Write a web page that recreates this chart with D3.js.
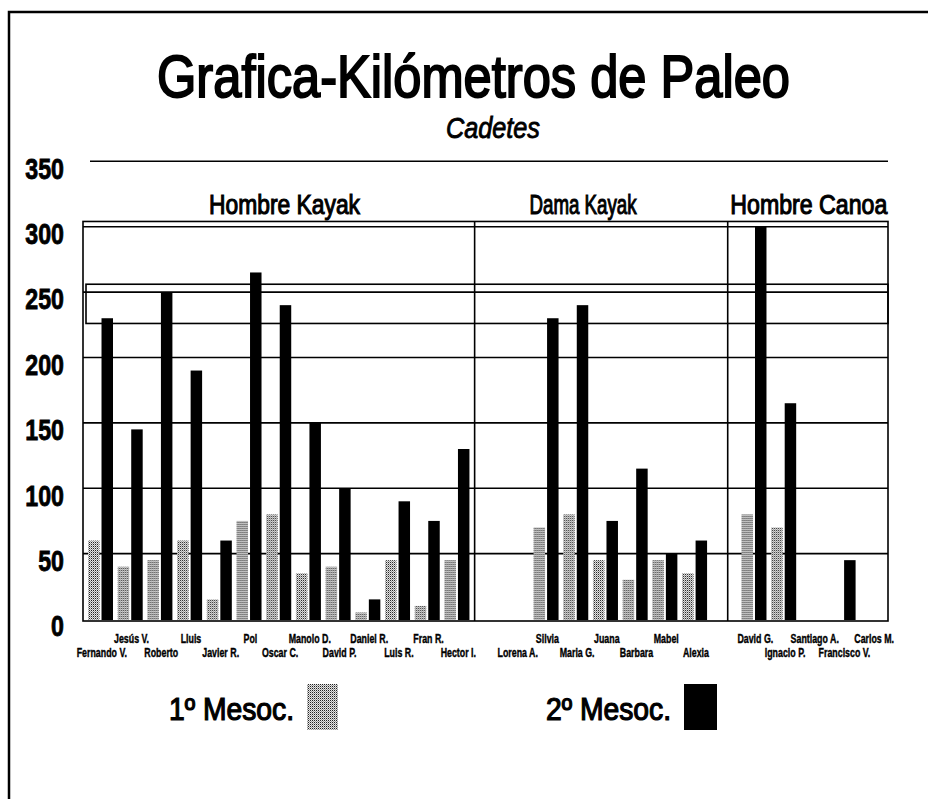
<!DOCTYPE html>
<html>
<head>
<meta charset="utf-8">
<script src="https://cdn.jsdelivr.net/npm/d3@7"></script>
<style>
body { margin: 0; background: #fff; }
svg { display: block; }
text { font-family: "Liberation Sans", Arial, sans-serif; fill: #000; }
</style>
</head>
<body>
<svg id="chart"></svg>
<script>
// one slot per paddler, "" = empty slot between groups
var names = ["Fernando V.", "Jesús V.", "Roberto", "Lluis", "Javier R.", "Pol", "Oscar C.", "Manolo D.", "David P.", "Daniel R.", "Luis R.", "Fran R.", "Hector I.",
             "",
             "Lorena A.", "Silvia", "Maria G.", "Juana", "Barbara", "Mabel", "Alexia",
             "",
             "David G.", "Ignacio P.", "Santiago A.", "Francisco V.", "Carlos M."];
var mesoc1 = [60, 40, 45, 60, 15, 75, 80, 35, 40, 5, 45, 10, 45,
              0,
              0, 70, 80, 45, 30, 45, 35,
              0,
              80, 70, 0, 0, 0];
var mesoc2 = [230, 145, 250, 190, 60, 265, 240, 150, 100, 15, 90, 75, 130,
              0,
              0, 230, 240, 75, 115, 50, 60,
              0,
              300, 165, 0, 45, 0];
var topRow = ["Jesús V.", "Lluis", "Pol", "Manolo D.", "Daniel R.", "Fran R.", "Silvia", "Juana", "Mabel", "David G.", "Santiago A.", "Carlos M."];
var groups = ["Hombre Kayak", "Dama Kayak", "Hombre Canoa"];
var yTicks = [0, 50, 100, 150, 200, 250, 300, 350];
var seriesNames = ["1º Mesoc.", "2º Mesoc."];
var refBand = [226, 256];

var W = 928, H = 799;

// layout (slot units for group things)
var groupCenter = [6.65, 16.7, 24.3];
var groupWidth = [151, 107, 157];
var groupSep = [13.05, 21.57];

var svg = d3.select('#chart').attr('width', W).attr('height', H);

var defs = svg.append('defs');
var pat = defs.append('pattern')
  .attr('id', 'dots')
  .attr('width', 2).attr('height', 2)
  .attr('patternUnits', 'userSpaceOnUse');
pat.append('rect').attr('width', 2).attr('height', 2).attr('fill', '#e6e6e6');
pat.append('rect').attr('x', 0).attr('y', 0).attr('width', 1).attr('height', 1).attr('fill', '#222');
pat.append('rect').attr('x', 1).attr('y', 1).attr('width', 1).attr('height', 1).attr('fill', '#999');

var x = d3.scaleBand().domain(d3.range(names.length)).range([87, 889]).paddingInner(0).paddingOuter(0);
var step = x.step();
var xs = d3.scaleBand().domain([0, 1]).range([1, 26]).paddingInner(0.15);
var y = d3.scaleLinear().domain([0, 300]).range([619, 226.7]);

function slotX(u) { return x.range()[0] + u * step; }

// page frame
svg.append('path')
  .attr('d', 'M9,' + H + 'V12H' + W)
  .attr('fill', 'none').attr('stroke', '#000').attr('stroke-width', 2.5);

// title
svg.append('text')
  .attr('x', 157).attr('y', 97)
  .attr('textLength', 633).attr('lengthAdjust', 'spacingAndGlyphs')
  .style('font-size', '60px')
  .style('stroke', '#000').style('stroke-width', 2)
  .text('Grafica-Kilómetros de Paleo');

svg.append('text')
  .attr('x', 446).attr('y', 138)
  .attr('textLength', 94).attr('lengthAdjust', 'spacingAndGlyphs')
  .style('font-size', '30px').style('font-style', 'italic')
  .style('stroke', '#000').style('stroke-width', 0.9)
  .text('Cadetes');

// box
var bx0 = x.range()[0] - 4, bx1 = x.range()[1] - 1;
svg.append('rect')
  .attr('x', bx0).attr('y', y(304))
  .attr('width', bx1 - bx0).attr('height', y(0) + 2 - y(304))
  .attr('fill', 'none').attr('stroke', '#000').attr('stroke-width', 1.6);

// gridlines
svg.append('g').selectAll('line')
  .data(yTicks.filter(function(d) { return d > 0; }))
  .enter().append('line')
  .attr('x1', function(d) { return d === 350 ? 90 : bx0; })
  .attr('x2', bx1)
  .attr('y1', function(d) { return y(d); })
  .attr('y2', function(d) { return y(d); })
  .attr('stroke', '#000').attr('stroke-width', 1.6);

// reference band around 250
svg.append('rect')
  .attr('x', bx0 + 3).attr('y', y(refBand[1]))
  .attr('width', bx1 - bx0 - 3).attr('height', y(refBand[0]) - y(refBand[1]))
  .attr('fill', 'none').attr('stroke', '#000').attr('stroke-width', 1.6);

// group separators
svg.append('g').selectAll('line')
  .data(groupSep)
  .enter().append('line')
  .attr('x1', slotX).attr('x2', slotX)
  .attr('y1', y(304)).attr('y2', y(0) + 2)
  .attr('stroke', '#000').attr('stroke-width', 1.6);

// group labels
svg.append('g').selectAll('text')
  .data(groups)
  .enter().append('text')
  .attr('x', function(d, i) { return slotX(groupCenter[i]) - groupWidth[i] / 2; })
  .attr('y', 214)
  .attr('textLength', function(d, i) { return groupWidth[i]; })
  .attr('lengthAdjust', 'spacingAndGlyphs')
  .style('font-size', '27px')
  .style('stroke', '#000').style('stroke-width', 1.1)
  .text(function(d) { return d; });

// y axis labels
var yAxis = d3.axisLeft(y).tickValues(yTicks).tickSize(0).tickPadding(0);
var ax = svg.append('g')
  .attr('transform', 'translate(64,0)')
  .call(yAxis);
ax.select('.domain').remove();
ax.attr('font-family', null).attr('font-size', null);
ax.selectAll('text')
  .attr('dy', '0.58em')
  .attr('transform', 'scale(0.8,1)')
  .style('font-size', '29px').style('font-weight', 'bold')
  .style('stroke', '#000').style('stroke-width', 0.8);

// bars
var slots = names.map(function(n, i) { return { i: i, name: n, v: [mesoc1[i], mesoc2[i]] }; });
var bars = svg.append('g').selectAll('g')
  .data(slots)
  .enter().append('g')
  .attr('transform', function(d) { return 'translate(' + x(d.i) + ',0)'; });
bars.selectAll('rect')
  .data(function(d) { return d.v.map(function(v, k) { return { k: k, v: v }; }).filter(function(e) { return e.v > 0; }); })
  .enter().append('rect')
  .attr('x', function(e) { return xs(e.k); })
  .attr('width', xs.bandwidth())
  .attr('y', function(e) { return y(e.v); })
  .attr('height', function(e) { return y(0) + 1 - y(e.v); })
  .attr('fill', function(e) { return e.k === 0 ? 'url(#dots)' : '#000'; });

// names
svg.append('g').selectAll('text')
  .data(slots.filter(function(d) { return d.name !== ''; }))
  .enter().append('text')
  .attr('transform', function(d) {
    var ty = topRow.indexOf(d.name) >= 0 ? 643 : 657;
    return 'translate(' + (x(d.i) + step / 2) + ',' + ty + ') scale(0.68,1)';
  })
  .attr('text-anchor', 'middle')
  .style('font-size', '13px').style('font-weight', 'bold')
  .style('stroke', '#000').style('stroke-width', 0.4)
  .text(function(d) { return d.name; });

// legend
var legX = [169, 546];
var legSw = [[307, 31], [684, 33]];
var leg = svg.append('g').selectAll('g')
  .data(seriesNames)
  .enter().append('g');
leg.append('text')
  .attr('x', function(d, i) { return legX[i]; })
  .attr('y', 720)
  .attr('textLength', 125).attr('lengthAdjust', 'spacingAndGlyphs')
  .style('font-size', '31px')
  .style('stroke', '#000').style('stroke-width', 1.2)
  .text(function(d) { return d; });
leg.append('rect')
  .attr('x', function(d, i) { return legSw[i][0]; })
  .attr('width', function(d, i) { return legSw[i][1]; })
  .attr('y', 684).attr('height', 46)
  .attr('fill', function(d, i) { return i === 0 ? 'url(#dots)' : '#000'; });
</script>
</body>
</html>
